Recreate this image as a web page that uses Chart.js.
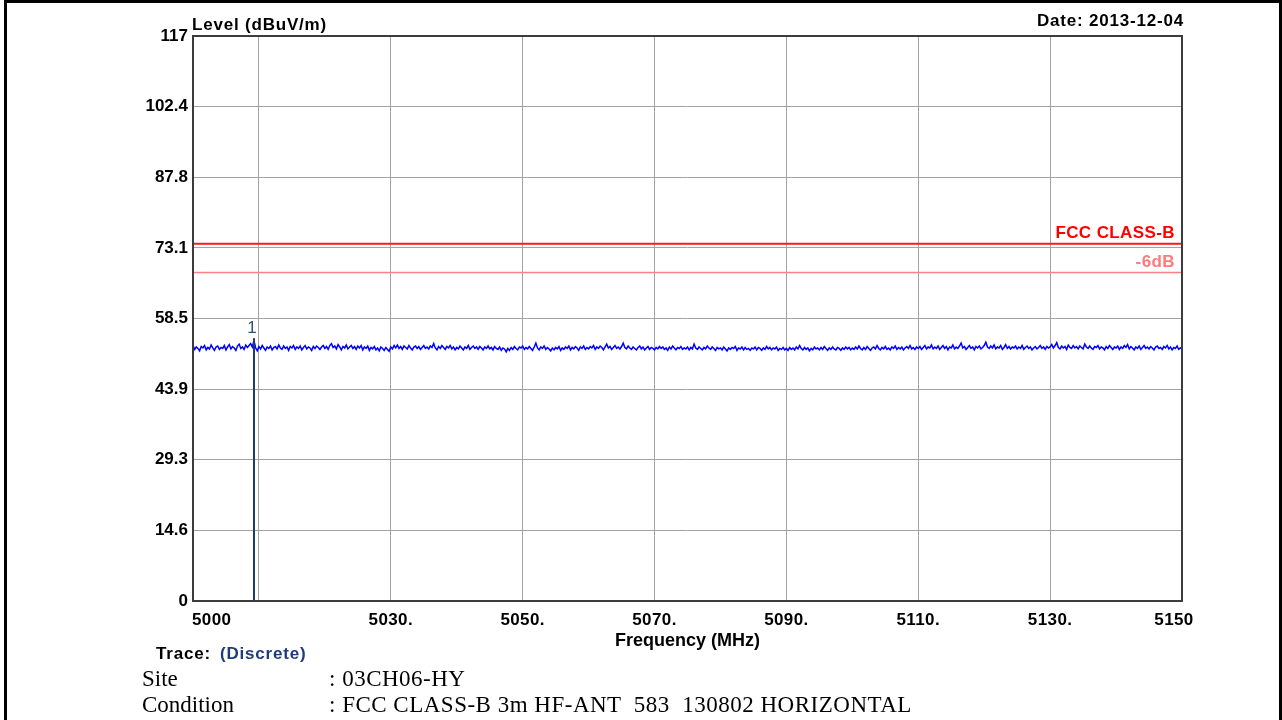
<!DOCTYPE html>
<html>
<head>
<meta charset="utf-8">
<title>Radiated Emission 5000-5150 MHz</title>
<script src="https://cdn.jsdelivr.net/npm/chart.js@4.4.0/dist/chart.umd.min.js"></script>
<style>
  html, body { margin: 0; padding: 0; background: #fff; width: 1282px; height: 720px; overflow: hidden; }
  #frame { position: absolute; left: 4px; top: 0; width: 1272px; height: 740px; border: 3px solid #000; border-bottom: none; }
  #chart { position: absolute; left: 0; top: 0; }
  .hd { position: absolute; font: bold 17px "Liberation Sans", Arial, sans-serif; line-height: 17px; letter-spacing: 0.8px; white-space: nowrap; color: #000; }
  .info { position: absolute; font: 23px "Liberation Serif", "Times New Roman", serif; line-height: 23px; white-space: pre; color: #000; }
  .val { letter-spacing: 0.5px; }
</style>
</head>
<body>
<div id="frame"></div>
<canvas id="chart" width="1282" height="720"></canvas>
<div class="hd" style="left:192px; top:16px;">Level (dBuV/m)</div>
<div class="hd" style="right:98px; top:12px;">Date: 2013-12-04</div>
<div class="hd" style="left:156px; top:645px;">Trace:</div>
<div class="hd" style="left:220px; top:645px; color:#1f3c78;">(Discrete)</div>
<div class="info" style="left:142px; top:667px;">Site</div>
<div class="info val" style="left:329px; top:667px;">: 03CH06-HY</div>
<div class="info" style="left:142px; top:693px;">Condition</div>
<div class="info val" style="left:329px; top:693px;">: FCC CLASS-B 3m HF-ANT  583  130802 HORIZONTAL</div>

<script>
// Sweep settings (MHz)
const sweepStart = 5000;
const sweepStep = 0.25;

// Measured level along the sweep (dBuV/m), one row per 5 MHz
const traceLevels = [
  52.9, 52.1, 52.6, 52.3, 51.8, 52.7, 52.4, 52.9, 52.0, 52.5, 52.2, 53.0, 52.4, 51.9, 52.6, 52.8, 52.1, 52.5, 52.3, 52.9,
  52.0, 52.6, 53.1, 52.2, 52.7, 52.4, 51.9, 52.8, 53.2, 52.3, 52.6, 52.1, 53.0, 52.5, 52.9, 53.3, 52.6, 53.9, 52.4, 51.8,
  52.7, 52.2, 52.9, 52.4, 51.9, 52.6, 52.3, 52.8, 52.0, 52.5, 52.7, 52.2, 53.0, 52.4, 52.1, 52.8, 52.3, 52.6, 51.9, 52.7,
  52.4, 52.9, 52.1, 52.6, 52.3, 52.8, 52.0, 52.5, 52.9, 52.2, 52.6, 52.4, 51.9, 52.7, 52.3, 52.8, 52.5, 52.1, 52.6, 52.9,
  52.3, 52.7, 52.1, 52.9, 53.3, 52.5, 52.8, 52.2, 53.1, 52.6, 52.0, 52.7, 52.4, 53.0, 52.2, 52.6, 52.9, 52.3, 52.7, 52.1,
  52.8, 52.4, 52.9, 52.0, 52.6, 52.3, 52.8, 51.9, 52.5, 52.2, 52.7, 52.0, 52.4, 51.8, 52.6, 52.3, 51.9, 52.5, 52.1, 51.7,
  52.6, 52.2, 52.9, 52.4, 53.0, 52.3, 52.7, 52.1, 52.8, 52.5, 52.2, 52.9, 52.4, 52.0, 52.6, 52.8, 52.3, 52.7, 52.1, 52.5,
  52.9, 52.3, 52.6, 52.2, 52.8, 52.5, 53.3, 52.4, 52.0, 52.7, 52.3, 52.9, 52.5, 52.1, 52.7, 52.4, 52.9, 52.2, 52.6, 52.0,
  52.5, 52.2, 52.8, 52.4, 52.0, 52.6, 52.3, 52.9, 52.1, 52.5, 52.8, 52.3, 52.6, 52.1, 52.7, 52.4, 52.0, 52.6, 52.3, 52.8,
  52.2, 52.5, 52.0, 52.7, 52.3, 52.1, 52.6, 51.9, 52.4, 52.2, 51.6, 52.3, 51.9, 52.5, 52.1, 52.7, 52.3, 52.0, 52.6, 52.4,
  52.8, 52.1, 52.5, 52.2, 52.7, 52.3, 51.9, 52.6, 53.4, 52.4, 52.0, 52.6, 52.3, 52.8, 52.1, 52.5, 52.2, 51.8, 52.4, 52.0,
  52.5, 52.2, 52.7, 51.9, 52.4, 52.1, 52.6, 52.3, 52.8, 52.0, 52.5, 52.2, 52.7, 52.4, 51.9, 52.6, 52.3, 52.8, 52.1, 52.5,
  52.2, 52.7, 52.4, 52.9, 52.1, 52.6, 52.3, 52.8, 52.5, 52.0, 52.6, 53.2, 52.4, 52.7, 52.1, 52.5, 52.9, 52.3, 52.6, 52.2,
  52.7, 53.4, 52.5, 52.2, 52.8, 52.4, 52.1, 52.6, 52.3, 52.0, 52.5, 52.8, 52.2, 52.6, 52.0, 52.4, 52.7, 52.1, 52.5, 52.3,
  52.0, 52.5, 52.2, 52.7, 52.3, 52.6, 52.1, 52.4, 51.9, 52.6, 52.2, 52.8, 52.4, 52.0, 52.5, 52.3, 52.7, 52.1, 52.4, 52.2,
  52.6, 52.0, 52.5, 52.2, 53.2, 52.4, 52.1, 52.6, 52.3, 52.0, 52.5, 52.2, 52.8, 52.4, 52.1, 52.6, 52.3, 51.9, 52.5, 52.2,
  52.4, 52.0, 52.6, 52.2, 51.8, 52.4, 52.1, 52.5, 52.3, 52.7, 51.9, 52.4, 52.2, 52.6, 52.0, 52.5, 52.1, 52.3, 51.9, 52.4,
  52.2, 52.6, 52.0, 52.5, 52.3, 51.9, 52.4, 52.1, 52.7, 52.2, 52.5, 52.0, 52.4, 52.2, 52.6, 51.9, 52.3, 52.1, 52.5, 52.0,
  52.3, 51.9, 52.5, 52.1, 52.4, 52.0, 52.6, 52.2, 52.9, 52.3, 52.0, 52.5, 52.1, 52.4, 51.8, 52.3, 52.0, 52.6, 52.2, 52.4,
  52.0, 52.5, 52.1, 52.7, 52.3, 51.9, 52.4, 52.1, 52.6, 52.2, 52.0, 52.5, 52.3, 51.9, 52.4, 52.1, 52.6, 52.2, 52.5, 52.0,
  52.4, 52.1, 52.6, 52.2, 52.8, 52.3, 52.0, 52.5, 52.1, 52.7, 52.3, 51.9, 52.4, 52.6, 52.2, 52.9, 52.3, 52.0, 52.5, 52.2,
  52.7, 52.1, 52.4, 52.0, 52.6, 52.3, 52.8, 52.1, 52.5, 52.2, 52.6, 52.0, 52.4, 52.7, 52.3, 52.9, 52.2, 52.5, 52.1, 52.6,
  52.3, 52.7, 52.1, 52.5, 52.9, 52.2, 52.6, 52.4, 53.0, 52.2, 52.6, 52.3, 52.8, 52.1, 52.5, 52.9, 52.3, 52.7, 52.0, 52.6,
  52.4, 53.0, 52.2, 52.6, 52.3, 52.8, 53.4, 52.4, 52.7, 52.1, 52.5, 52.9, 52.3, 52.6, 52.0, 52.7, 52.4, 52.8, 52.2, 52.5,
  52.9, 53.6, 52.6, 52.3, 52.8, 52.4, 53.0, 52.2, 52.6, 52.4, 52.9, 52.1, 52.5, 53.1, 52.3, 52.7, 52.2, 52.6, 52.4, 52.8,
  52.2, 52.6, 52.3, 52.9, 52.1, 52.5, 52.8, 52.3, 52.6, 52.0, 52.4, 52.7, 52.2, 52.5, 52.9, 52.3, 52.6, 52.1, 52.7, 52.4,
  52.6, 53.1, 52.4, 52.9, 53.5, 52.5, 52.2, 52.8, 52.4, 52.7, 52.1, 53.0, 52.5, 52.3, 52.9, 52.4, 52.7, 52.2, 52.8, 52.5,
  52.2, 53.2, 52.6, 52.3, 52.8, 52.4, 52.1, 52.7, 52.5, 52.9, 52.2, 52.6, 52.4, 52.0, 52.7, 52.3, 52.9, 52.5, 52.1, 52.6,
  52.4, 52.8, 52.1, 52.6, 52.3, 52.9, 52.5, 53.1, 52.2, 52.7, 52.4, 52.0, 52.6, 52.3, 52.8, 52.1, 52.5, 52.9, 52.3, 52.6,
  52.2, 52.7, 52.4, 52.0, 52.6, 52.8, 52.3, 52.5, 52.1, 52.7, 52.4, 52.9, 52.2, 52.6, 52.0, 52.5, 52.3, 52.8, 52.1, 52.4,
  52.3
];

// Limit lines (dBuV/m)
const limitNames = ["FCC CLASS-B", "-6dB"];
const limitLevels = [74, 68];

// Marker 1
const markerFreqs = [5009.25];
const markerLevels = [54.4];

// Axis ticks
const xTickValues = [5000, 5010, 5030, 5050, 5070, 5090, 5110, 5130, 5150];
const xTickLabels = ["5000", "", "5030.", "5050.", "5070.", "5090.", "5110.", "5130.", "5150"];
const yTickValues = [0, 14.625, 29.25, 43.875, 58.5, 73.125, 87.75, 102.375, 117];
const yTickLabels = ["0", "14.6", "29.3", "43.9", "58.5", "73.1", "87.8", "102.4", "117"];

const boldFont = { family: '"Liberation Sans", Arial, sans-serif', size: 17, weight: 'bold' };
const titleFont = { family: '"Liberation Sans", Arial, sans-serif', size: 18, weight: 'bold' };
const gridGray = '#a3a3a3';

const tracePoints = traceLevels.map((v, i) => ({ x: sweepStart + i * sweepStep, y: v }));

const limitSets = limitLevels.map((lv, i) => ({
  label: limitNames[i],
  data: [{ x: xTickValues[0], y: lv }, { x: xTickValues[xTickValues.length - 1], y: lv }],
  borderColor: i === 0 ? '#ff1a1a' : '#ff8080',
  borderWidth: i === 0 ? 2 : 1.5,
  pointRadius: 0
}));

const markerSets = markerFreqs.map((f, i) => ({
  label: 'Marker ' + (i + 1),
  data: [{ x: f, y: 0 }, { x: f, y: markerLevels[i] }],
  borderColor: '#1c3c6c',
  borderWidth: 2,
  pointRadius: 0
}));

// Plot frame, x tick labels, limit names and marker numbers
const decorations = {
  id: 'decorations',
  afterDraw(chart) {
    const { ctx, chartArea: a, scales: { x, y } } = chart;
    ctx.save();
    ctx.strokeStyle = '#3c3c3c';
    ctx.lineWidth = 2;
    ctx.strokeRect(a.left, a.top, a.right - a.left, a.bottom - a.top);

    ctx.font = 'bold 17px "Liberation Sans", Arial, sans-serif';
    ctx.letterSpacing = '0.4px';
    ctx.fillStyle = '#000';
    ctx.textBaseline = 'alphabetic';
    const last = xTickValues.length - 1;
    xTickValues.forEach((v, i) => {
      const t = xTickLabels[i];
      if (!t) return;
      const px = x.getPixelForValue(v);
      ctx.textAlign = 'left';
      let left;
      if (i === 0) left = px - 1;
      else if (i === last) left = px - ctx.measureText(t).width / 2 - 8;
      else left = px - ctx.measureText(t).width / 2;
      ctx.fillText(t, left, a.bottom + 24);
    });

    ctx.textAlign = 'right';
    limitLevels.forEach((lv, i) => {
      ctx.fillStyle = i === 0 ? '#ff0000' : '#ff7a7a';
      ctx.fillText(limitNames[i], a.right - 7, y.getPixelForValue(lv) - 6);
    });

    ctx.letterSpacing = '0px';
    ctx.font = '17px "Liberation Sans", Arial, sans-serif';
    ctx.fillStyle = '#2b5082';
    ctx.textAlign = 'center';
    markerFreqs.forEach((f, i) => {
      ctx.fillText(String(i + 1), x.getPixelForValue(f) - 2, y.getPixelForValue(markerLevels[i]) - 5);
    });
    ctx.restore();
  }
};

new Chart(document.getElementById('chart'), {
  type: 'line',
  data: {
    datasets: [
      ...markerSets,
      {
        label: 'Level',
        data: tracePoints,
        borderColor: '#0000ff',
        borderWidth: 1.5,
        pointRadius: 0,
        tension: 0
      },
      ...limitSets
    ]
  },
  options: {
    responsive: false,
    animation: false,
    devicePixelRatio: 1,
    layout: { padding: { left: 0, top: 36, right: 100, bottom: 0 } },
    plugins: { legend: { display: false }, tooltip: { enabled: false } },
    scales: {
      x: {
        type: 'linear',
        min: xTickValues[0],
        max: xTickValues[xTickValues.length - 1],
        afterBuildTicks(scale) { scale.ticks = xTickValues.map(v => ({ value: v })); },
        afterFit(scale) { scale.height = 119; },
        ticks: { display: false },
        grid: { color: gridGray, lineWidth: 1, drawTicks: false },
        border: { display: false },
        title: {
          display: true,
          text: 'Frequency (MHz)',
          color: '#000',
          font: titleFont,
          padding: { top: 0, bottom: 68 }
        }
      },
      y: {
        type: 'linear',
        min: yTickValues[0],
        max: yTickValues[yTickValues.length - 1],
        afterBuildTicks(scale) { scale.ticks = yTickValues.map(v => ({ value: v })); },
        afterFit(scale) { scale.width = 193; },
        ticks: {
          color: '#000',
          font: boldFont,
          padding: 5,
          callback(value, index) { return yTickLabels[index]; }
        },
        grid: { color: gridGray, lineWidth: 1, drawTicks: false },
        border: { display: false }
      }
    }
  },
  plugins: [decorations]
});
</script>
</body>
</html>
